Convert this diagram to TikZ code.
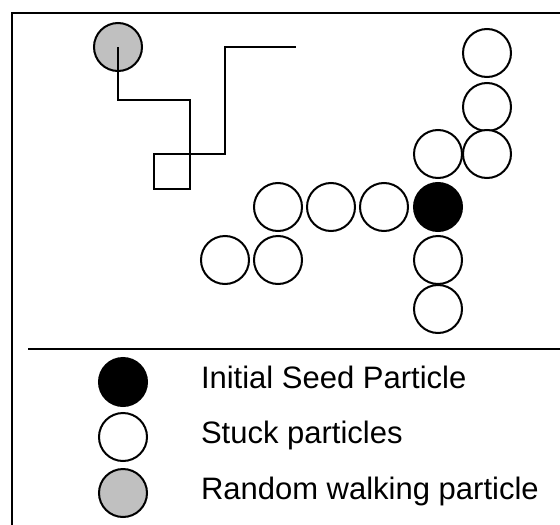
\documentclass[tikz,border=0pt]{standalone}
\usepackage{fontspec}
\setmainfont{Liberation Sans}
\definecolor{walkgray}{RGB}{192,192,192}
\begin{document}
\begin{tikzpicture}[x=1pt,y=-1pt,line width=2pt,
  particle/.style={circle,draw=black,minimum size=48pt,inner sep=0pt},
  stuck/.style={particle,fill=white},
  seed/.style={particle,fill=black},
  walker/.style={particle,fill=walkgray},
  legendtext/.style={anchor=base west,inner sep=0pt,font=\fontsize{31}{36}\selectfont},
  walkpath/.style={draw=black,line width=2pt}]
\useasboundingbox (0,0) rectangle (560,525);
% frame and separator
\draw (12,530) -- (12,13) -- (565,13);
\coordinate (sepL) at (28,349);
\coordinate (sepR) at (565,349);
\draw (sepL) -- (sepR);
% random walker and its path
\node[walker] (w) at (118,47) {};
\coordinate (p1) at (118,100);
\coordinate (p2) at (190,100);
\coordinate (p3) at (190,189);
\coordinate (p4) at (154,189);
\coordinate (p5) at (154,154);
\coordinate (p6) at (225,154);
\coordinate (p7) at (225,47);
\coordinate (p8) at (296,47);
\draw[walkpath] (w.center) -- (p1) -- (p2) -- (p3) -- (p4) -- (p5) -- (p6) -- (p7) -- (p8);
% cluster
\node[stuck] (c1) at (487,53) {};
\node[stuck] (c2) at (487,107) {};
\node[stuck] (c3) at (487,154) {};
\node[stuck] (c4) at (438,154) {};
\node[stuck] (r1) at (278,207) {};
\node[stuck] (r2) at (331,207) {};
\node[stuck] (r3) at (384,207) {};
\node[seed]  (s)  at (438,207) {};
\node[stuck] (l1) at (225,260) {};
\node[stuck] (l2) at (278,260) {};
\node[stuck] (d1) at (438,260) {};
\node[stuck] (d2) at (438,309) {};
% legend
\node[seed]   (ls) at (123,382) {};
\node[stuck]  (lc) at (123,437) {};
\node[walker] (lw) at (123,493) {};
\node[legendtext] (ts) at (200,388) {Initial Seed Particle};
\node[legendtext] (tc) at (200,443) {Stuck particles};
\node[legendtext] (tw) at (200,499) {Random walking particle};
\end{tikzpicture}
\end{document}
